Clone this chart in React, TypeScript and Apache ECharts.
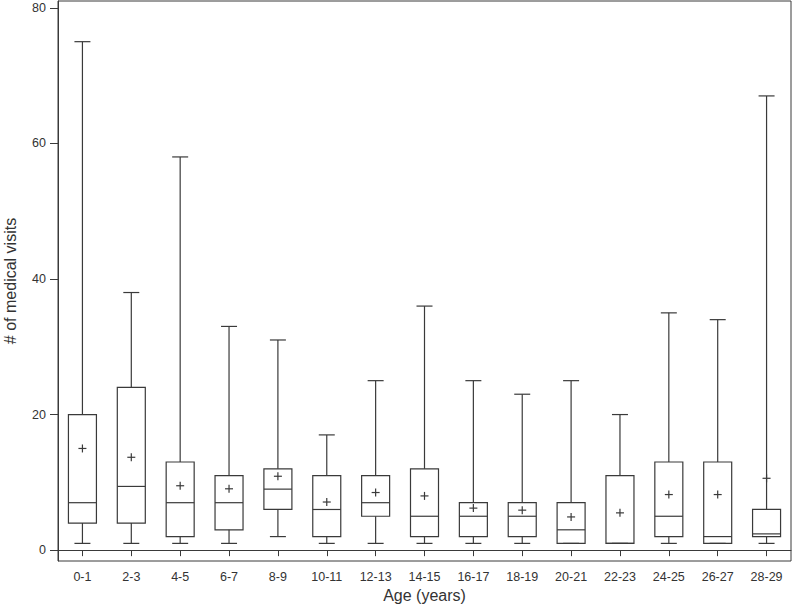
import React, { useEffect, useRef } from "react";
import * as echarts from "echarts";

const categories = ["0-1", "2-3", "4-5", "6-7", "8-9", "10-11", "12-13", "14-15", "16-17", "18-19", "20-21", "22-23", "24-25", "26-27", "28-29"];
const mins = [1, 1, 1, 1, 2, 1, 1, 1, 1, 1, 1, 1, 1, 1, 1];
const q1s = [4, 4, 2, 3, 6, 2, 5, 2, 2, 2, 1, 1, 2, 1, 2];
const medians = [7, 9.4, 7, 7, 9, 6, 7, 5, 5, 5, 3, 1, 5, 2, 2.4];
const q3s = [20, 24, 13, 11, 12, 11, 11, 12, 7, 7, 7, 11, 13, 13, 6];
const maxs = [75, 38, 58, 33, 31, 17, 25, 36, 25, 23, 25, 20, 35, 34, 67];
const means = [15, 13.7, 9.5, 9.05, 10.9, 7.1, 8.5, 8, 6.2, 5.9, 4.9, 5.5, 8.2, 8.2, 10.6];
const yTicks = [0, 20, 40, 60, 80];

const LINE = "#3a3a3a";
const FONT = "'Liberation Sans', Arial, sans-serif";

export default function App() {
  const ref = useRef<HTMLDivElement>(null);
  useEffect(() => {
    if (!ref.current) return;
    const chart = echarts.init(ref.current, undefined, { renderer: "svg" });
    const data = categories.map((_, i) => [i, mins[i], q1s[i], medians[i], q3s[i], maxs[i], means[i]]);
    chart.setOption({
      animation: false,
      backgroundColor: "#fff",
      grid: {
        left: 58, right: 9, top: 1, bottom: 50,
        outerBoundsMode: "none", containLabel: false,
        show: true, borderColor: LINE, borderWidth: 1, backgroundColor: "transparent",
      },
      xAxis: {
        type: "category",
        data: categories,
        boundaryGap: true,
        name: "Age (years)",
        nameLocation: "middle",
        nameGap: 25,
        nameTextStyle: { fontFamily: FONT, fontSize: 16, color: "#333" },
        axisLine: { show: true, lineStyle: { color: LINE, width: 1 } },
        axisTick: { show: true, alignWithLabel: true, length: 6, lineStyle: { color: LINE } },
        axisLabel: { fontFamily: FONT, fontSize: 12.5, color: "#333", margin: 9, interval: 0 },
        splitLine: { show: false },
      },
      yAxis: {
        type: "value",
        min: -1.6,
        max: 81,
        name: "# of medical visits",
        nameLocation: "middle",
        nameGap: 40,
        nameTextStyle: { fontFamily: FONT, fontSize: 16, color: "#333" },
        axisLine: { show: true, lineStyle: { color: LINE, width: 1 } },
        axisTick: { show: true, length: 8, customValues: yTicks, lineStyle: { color: LINE } },
        axisLabel: { fontFamily: FONT, fontSize: 12.5, color: "#333", margin: 12, customValues: yTicks },
        splitLine: { show: false },
      },
      series: [
        {
          type: "custom",
          data,
          encode: { x: 0, y: [1, 2, 3, 4, 5, 6] },
          renderItem: (params: any, api: any) => {
            const idx = api.value(0);
            const x = api.coord([idx, 0])[0];
            const Y = (v: number) => api.coord([idx, v])[1];
            const mn = Y(api.value(1));
            const q1 = Y(api.value(2));
            const md = Y(api.value(3));
            const q3 = Y(api.value(4));
            const mx = Y(api.value(5));
            const me = Y(api.value(6));
            const hw = 14;
            const cw = 8;
            const pw = 4;
            const st = { stroke: LINE, lineWidth: 1.2, fill: "transparent" };
            const line = (x1: number, y1: number, x2: number, y2: number) => ({
              type: "line",
              shape: { x1, y1, x2, y2 },
              style: st,
            });
            return {
              type: "group",
              children: [
                line(x, mx, x, q3),
                line(x, q1, x, mn),
                line(x - cw, mx, x + cw, mx),
                line(x - cw, mn, x + cw, mn),
                { type: "rect", shape: { x: x - hw, y: q3, width: hw * 2, height: q1 - q3 }, style: st },
                line(x - hw, md, x + hw, md),
                line(x - pw, me, x + pw, me),
                line(x, me - pw, x, me + pw),
              ],
            };
          },
        },
      ],
    });
    return () => chart.dispose();
  }, []);
  return <div ref={ref} style={{ width: 800, height: 611, position: "absolute", left: 0, top: 0 }} />;
}
